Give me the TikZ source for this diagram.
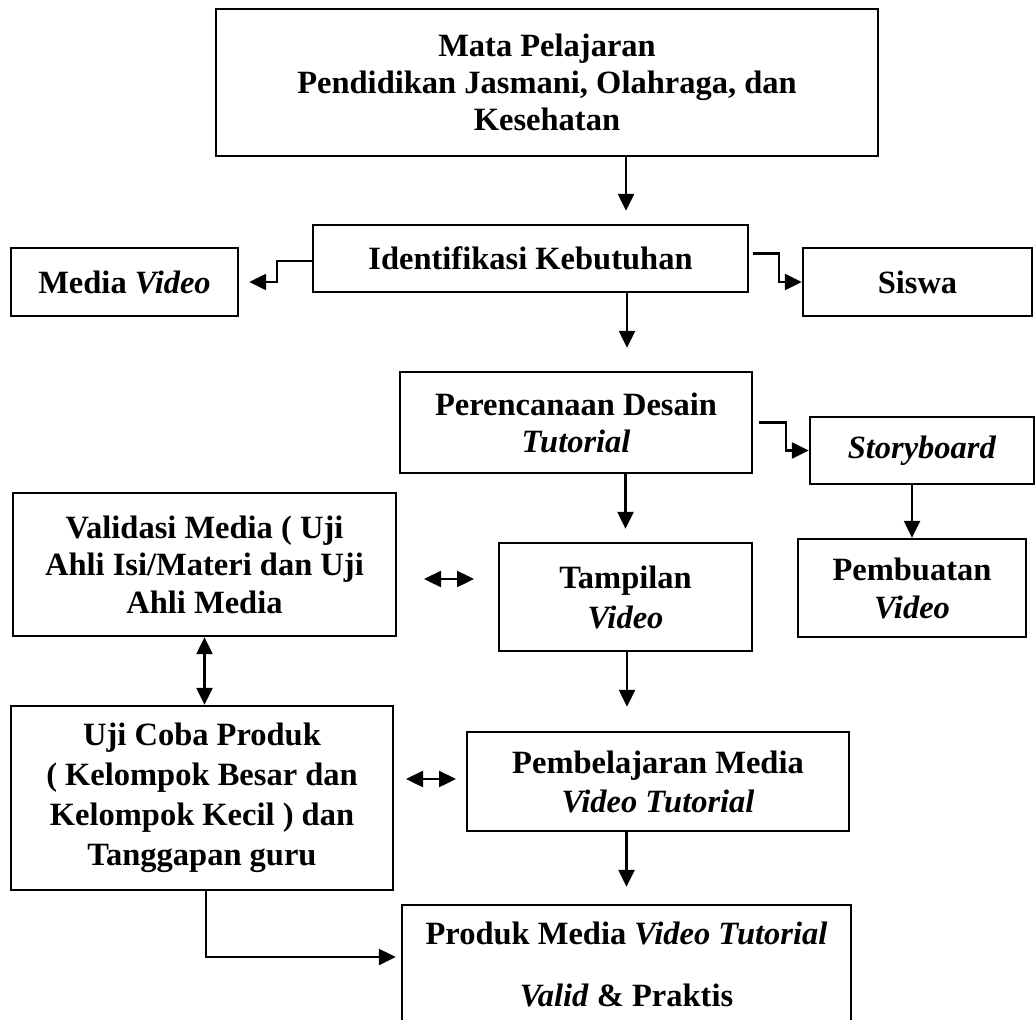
\documentclass[tikz,border=0pt]{standalone}
\usepackage{fontspec}
\setmainfont{Liberation Serif}
\usetikzlibrary{arrows.meta,calc}
\begin{document}
\begin{tikzpicture}[x=1pt,y=-1pt,
  box/.style={draw, line width=2.4pt, rectangle, inner sep=0pt, align=center,
    font=\fontsize{32.5}{38}\selectfont\bfseries},
  arr/.style={line width=2.4pt, -{Triangle[length=17pt,width=16pt]}},
  darr/.style={line width=2.4pt, {Triangle[length=17pt,width=16pt]}-{Triangle[length=17pt,width=16pt]}}]
\useasboundingbox[fill=white] (0,0) rectangle (1035,1019);

\node[box, minimum width=662, minimum height=147, font=\fontsize{32.5}{37}\selectfont\bfseries] (top) at (547,82.5)
  {Mata Pelajaran\\Pendidikan Jasmani, Olahraga, dan\\Kesehatan};
\node[box, minimum width=435, minimum height=67] (ident) at (530.5,258.5) {Identifikasi Kebutuhan};
\node[box, minimum width=227, minimum height=68] (media) at (124.5,282) {Media \textit{Video}};
\node[box, minimum width=229, minimum height=68] (siswa) at (917.5,282) {Siswa};
\node[box, minimum width=352, minimum height=101, font=\fontsize{32.5}{37}\selectfont\bfseries] (plan) at (576,422.5)
  {Perencanaan Desain\\\textit{Tutorial}};
\node[box, minimum width=224, minimum height=67] (story) at (922,450.5) {\textit{Storyboard}};
\node[box, minimum width=228, minimum height=98] (pbt) at (912,588) {Pembuatan\\\textit{Video}};
\node[box, minimum width=253, minimum height=108, font=\fontsize{32.5}{40}\selectfont\bfseries] (tamp) at (625.5,597) {Tampilan\\\textit{Video}};
\node[box, minimum width=383, minimum height=143, font=\fontsize{32.5}{37.5}\selectfont\bfseries] (val) at (204.5,564.5)
  {Validasi Media ( Uji\\Ahli Isi/Materi dan Uji\\Ahli Media};
\node[box, minimum width=382, minimum height=184, font=\fontsize{32.5}{40}\selectfont\bfseries] (uji) at (202,798)
  {Uji Coba Produk\\( Kelompok Besar dan\\Kelompok Kecil ) dan\\Tanggapan guru};
\node[box, minimum width=382, minimum height=99, font=\fontsize{32.5}{39}\selectfont\bfseries] (pemb) at (658,781.5)
  {Pembelajaran Media\\\textit{Video Tutorial}};
\node[box, minimum width=449, minimum height=119] (prod) at (626.5,964.5)
  {Produk Media \textit{Video Tutorial}\\[24pt]\textit{Valid} \& Praktis};

% vertical connectors
\draw[arr, shorten >=13pt] ([xshift=95.5pt]ident.north |- top.south) -- ([xshift=95.5pt]ident.north);
\draw[arr, shorten >=23pt] ([xshift=96.5pt]ident.south) -- ([xshift=96.5pt]ident.south |- plan.north);
\draw[arr, shorten >=13pt] (tamp.north |- plan.south) -- (tamp.north);
\draw[arr] (pbt.north |- story.south) -- (pbt.north);
\draw[arr, shorten >=24pt] ([xshift=1.5pt]tamp.south) -- ([xshift=1.5pt]tamp.south |- pemb.north);
\draw[arr, shorten >=17pt] (prod.north |- pemb.south) -- (prod.north);

% elbow connectors
\draw[arr, shorten >=10pt] ([yshift=-2.5pt]ident.west) -- ++(-35,0) |- (media.east);
\draw[arr] ([xshift=4pt,yshift=5pt]ident.east) -- ++(26,0) |- (siswa.west);
\draw[arr] ([xshift=6pt]plan.east) -- ++(27,0) |- (story.west);
\draw[arr, shorten >=5pt] ([xshift=4pt]uji.south) |- ([yshift=7.5pt]prod.west);

% double arrows
\draw[darr] (val.south) -- (val.south |- uji.north);
\coordinate (d1a) at (424,579);
\coordinate (d1b) at (474,579);
\draw[darr] (d1a) -- (d1b);
\coordinate (d2a) at (406,779);
\coordinate (d2b) at (456,779);
\draw[darr] (d2a) -- (d2b);
\end{tikzpicture}
\end{document}
